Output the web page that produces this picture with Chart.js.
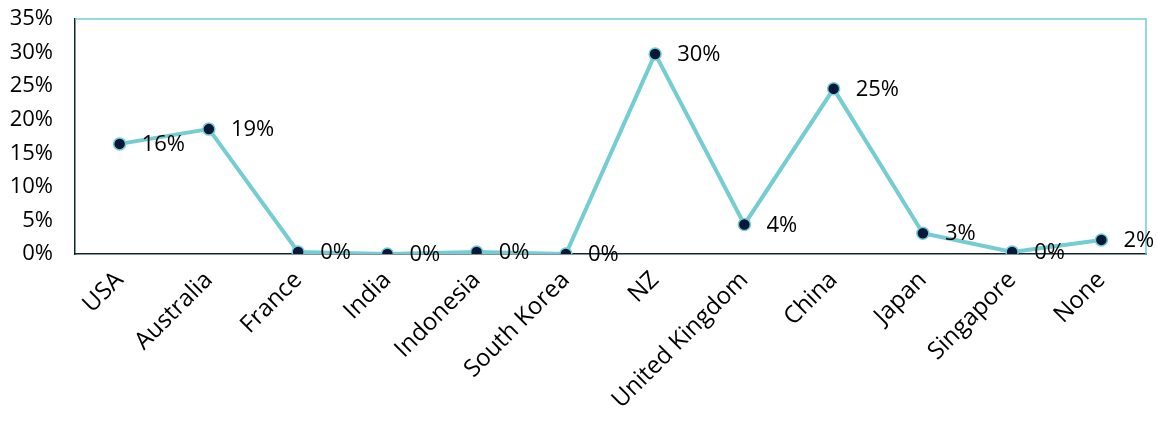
<!DOCTYPE html>
<html lang="en">
<head>
    <meta charset="UTF-8">
    <title>Countries</title>
    <script src="https://cdn.jsdelivr.net/npm/chart.js"></script>
    <style>
        html, body { margin: 0; padding: 0; background: #fff; }
        .chart-box { width: 1158px; height: 424px; }
    </style>
</head>
<body>
    <div class="chart-box">
        <canvas id="countryChart" width="1158" height="424"></canvas>
    </div>

    <script>
        const countries = ['USA', 'Australia', 'France', 'India', 'Indonesia', 'South Korea',
            'NZ', 'United Kingdom', 'China', 'Japan', 'Singapore', 'None'];
        const shares = [16.4, 18.6, 0.3, 0, 0.3, 0, 29.8, 4.4, 24.6, 3.1, 0.3, 2.1];
        const yTicks = [0, 5, 10, 15, 20, 25, 30, 35];

        const teal = '#74cdd2';
        const navy = '#08183a';
        const fontFamily = '"Open Sans", "DejaVu Sans", sans-serif';

        // value labels to the right of each point
        const valueLabels = {
            id: 'valueLabels',
            afterDatasetsDraw(chart) {
                const ctx = chart.ctx;
                const meta = chart.getDatasetMeta(0);
                ctx.save();
                ctx.font = '22px ' + fontFamily;
                ctx.fillStyle = '#000';
                ctx.textAlign = 'left';
                ctx.textBaseline = 'middle';
                meta.data.forEach((pt, i) => {
                    ctx.fillText(Math.round(shares[i]) + '%', pt.x + 22, pt.y + 1);
                });
                ctx.restore();
            }
        };

        // teal frame on top and right of the plot area
        const frame = {
            id: 'frame',
            beforeDatasetsDraw(chart) {
                const { ctx, chartArea: a } = chart;
                ctx.save();
                ctx.strokeStyle = teal;
                ctx.lineWidth = 1.5;
                ctx.beginPath();
                ctx.moveTo(a.left, a.top);
                ctx.lineTo(a.right, a.top);
                ctx.lineTo(a.right, a.bottom);
                ctx.stroke();
                ctx.restore();
            }
        };

        new Chart(document.getElementById('countryChart').getContext('2d'), {
            type: 'line',
            data: {
                labels: countries,
                datasets: [{
                    data: shares,
                    borderColor: teal,
                    borderWidth: 4,
                    pointBackgroundColor: navy,
                    pointBorderColor: teal,
                    pointBorderWidth: 1.5,
                    pointRadius: 6,
                    fill: false,
                    tension: 0
                }]
            },
            options: {
                responsive: false,
                animation: false,
                layout: { padding: { top: 19, right: 12, left: 0, bottom: 0 } },
                plugins: { legend: { display: false }, tooltip: { enabled: false } },
                scales: {
                    x: {
                        offset: true,
                        grid: { display: false },
                        border: { display: true, color: '#10262e', width: 1.5 },
                        ticks: {
                            color: '#000',
                            font: { family: fontFamily, size: 24 },
                            minRotation: 45,
                            maxRotation: 45,
                            autoSkip: false,
                            padding: 4
                        },
                        afterFit(scale) { scale.height = 170; }
                    },
                    y: {
                        min: 0,
                        max: 35,
                        afterBuildTicks(scale) { scale.ticks = yTicks.map(v => ({ value: v })); },
                        grid: { display: false },
                        border: { display: true, color: '#10262e', width: 1.5 },
                        ticks: {
                            color: '#000',
                            font: { family: fontFamily, size: 22 },
                            padding: 14,
                            callback: v => v + '%'
                        },
                        afterFit(scale) {
                            scale.width = 75;
                            scale.paddingTop = 0;
                            scale.paddingBottom = 0;
                        }
                    }
                }
            },
            plugins: [frame, valueLabels]
        });
    </script>
</body>
</html>
